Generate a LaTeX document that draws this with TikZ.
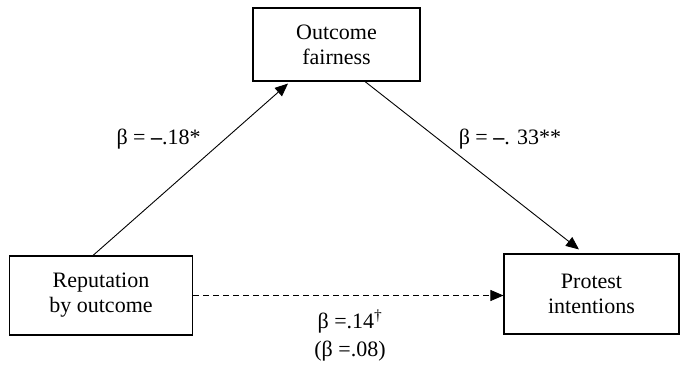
\documentclass[tikz,border=0pt]{standalone}
\usepackage{fontspec}
\setmainfont{Liberation Serif}
\usetikzlibrary{arrows.meta}
\begin{document}
\begin{tikzpicture}[x=1pt,y=1pt,
  box/.style={draw,line width=1.1pt,minimum width=#1,align=center,inner sep=0pt,
    font=\fontsize{22}{25}\selectfont},
  lbl/.style={font=\fontsize{22}{28}\selectfont,align=center,inner sep=0pt},
  arr/.style={line width=0.9pt,-{Triangle[length=13pt,width=11pt]}}]
\useasboundingbox (0,0) rectangle (681,365);
\node[box=167pt,minimum height=73pt] (top) at (336.5,320.5) {Outcome\\fairness};
\node[box=183pt,minimum height=79pt] (left) at (101,69.5) {Reputation\\by outcome};
\node[box=175pt,minimum height=80pt] (right) at (591.5,71) {Protest\\intentions};
\draw[arr] ([xshift=-8pt]left.north) -- ([xshift=-48.5pt,yshift=-2pt]top.south);
\draw[arr] ([xshift=28.5pt]top.south) -- ([xshift=-12.5pt,yshift=4pt]right.north);
\draw[arr,dashed,dash pattern=on 6pt off 4pt] (left.east) -- (left.east -| right.west);
\node[lbl] (l1) at (158.6,226) {β = \textbf{–}.18*};
\node[lbl] (l2) at (510,226) {β = \textbf{–}. 33**};
\node[lbl,anchor=north] (l3) at (350,55) {β =.14\textsuperscript{†}\\(β =.08)};
\end{tikzpicture}
\end{document}
